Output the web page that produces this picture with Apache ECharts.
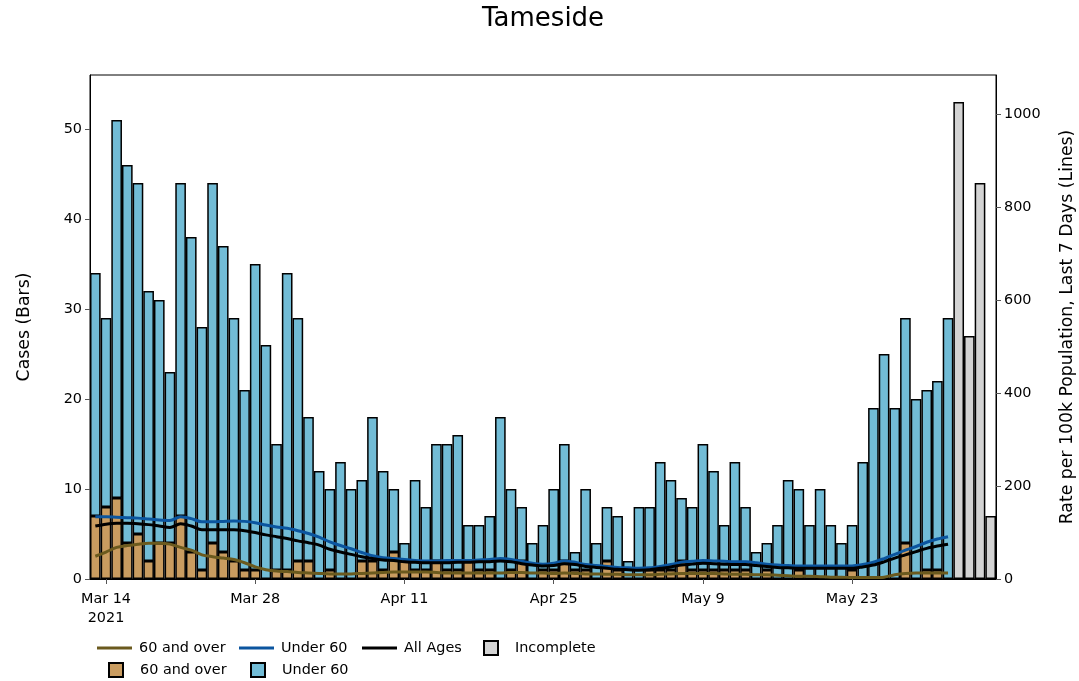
<!DOCTYPE html>
<html>
<head>
<meta charset="utf-8">
<script src="https://cdn.jsdelivr.net/npm/echarts@6/dist/echarts.min.js"></script>
<style>
html,body{margin:0;padding:0;background:#fff;}
#chart{width:1079px;height:681px;}
</style>
</head>
<body>
<div id="chart"></div>
<script>
// ---- Data ----
const categories = [
  'Mar 13','Mar 14','Mar 15','Mar 16','Mar 17','Mar 18','Mar 19','Mar 20','Mar 21','Mar 22',
  'Mar 23','Mar 24','Mar 25','Mar 26','Mar 27','Mar 28','Mar 29','Mar 30','Mar 31',
  'Apr 1','Apr 2','Apr 3','Apr 4','Apr 5','Apr 6','Apr 7','Apr 8','Apr 9','Apr 10',
  'Apr 11','Apr 12','Apr 13','Apr 14','Apr 15','Apr 16','Apr 17','Apr 18','Apr 19','Apr 20',
  'Apr 21','Apr 22','Apr 23','Apr 24','Apr 25','Apr 26','Apr 27','Apr 28','Apr 29','Apr 30',
  'May 1','May 2','May 3','May 4','May 5','May 6','May 7','May 8','May 9','May 10',
  'May 11','May 12','May 13','May 14','May 15','May 16','May 17','May 18','May 19','May 20',
  'May 21','May 22','May 23','May 24','May 25','May 26','May 27','May 28','May 29','May 30','May 31',
  'Jun 1','Jun 2','Jun 3','Jun 4','Jun 5'
];

// Daily cases, aged 60 and over (Mar 13 - Jun 1)
const over60Cases = [
  7,8,9,4,5,2,4,4,7,3,
  1,4,3,2,1,1,0,1,1,
  2,2,0,1,0,0,2,2,1,3,
  2,1,1,2,1,1,2,1,1,0,
  1,2,0,1,1,2,1,1,0,2,
  1,0,0,1,1,1,2,1,1,1,
  1,1,1,0,1,0,0,1,0,0,
  0,0,1,0,0,0,0,4,0,1,1,
  0
];

// Daily cases, under 60 (Mar 13 - Jun 1)
const under60Cases = [
  27,21,42,42,39,30,27,19,37,35,
  27,40,34,27,20,34,26,14,33,
  27,16,12,9,13,10,9,16,11,7,
  2,10,7,13,14,15,4,5,6,18,
  9,6,4,5,9,13,2,9,4,6,
  6,2,8,7,12,10,7,7,14,11,
  5,12,7,3,3,6,11,9,6,10,
  6,4,5,13,19,25,19,25,20,20,21,
  29
];

// Incomplete days (all ages)
const incompleteDates = ['Jun 2','Jun 3','Jun 4','Jun 5'];
const incompleteCases = [53,27,44,7];

// 7-day rate per 100k (Mar 13 - Jun 1)
const rateOver60 = [
  49,58,68,72,75,77,77,75,68,62,
  52,48,45,42,35,26,20,17,16,
  14,13,12,11,11,11,12,13,14,15,
  15,15,15,14,13,13,13,13,13,13,
  14,14,13,13,12,13,12,11,11,10,
  10,9,9,9,10,11,12,12,12,12,
  11,10,10,9,9,8,7,6,6,5,
  4,4,3,3,3,4,9,12,13,13,13,
  13
];
const rateUnder60 = [
  134,134,133,132,131,129,127,126,134,130,
  123,123,124,125,124,121,116,112,109,
  104,98,90,80,72,65,57,50,46,44,
  42,40,39,39,40,40,40,41,42,44,
  42,38,34,32,34,39,36,31,29,27,
  25,24,23,24,27,31,36,38,40,39,
  38,37,37,35,32,30,29,28,28,28,
  28,28,28,31,36,44,53,62,70,79,86,
  91
];
const rateAllAges = [
  114,118,120,120,119,117,114,111,119,114,
  106,106,106,106,104,100,95,91,87,
  82,78,73,64,58,53,48,44,41,40,
  37,36,35,35,35,36,36,37,37,39,
  37,33,30,28,29,33,31,27,25,23,
  21,20,19,20,23,26,30,32,34,33,
  32,31,31,29,27,25,24,23,23,23,
  23,23,23,26,30,37,45,52,59,66,71,
  75
];

// Tick labels shown on the date axis
const xTickLabels = {'Mar 14':'Mar 14\n2021','Mar 28':'Mar 28','Apr 11':'Apr 11','Apr 25':'Apr 25','May 9':'May 9','May 23':'May 23'};

// ---- Build ----
const pad = (arr) => categories.map((c, i) => i < arr.length ? arr[i] : null);
const incompleteData = categories.map(c => {
  const k = incompleteDates.indexOf(c);
  return k >= 0 ? incompleteCases[k] : null;
});

const FONT = 'DejaVu Sans';
const COL_OVER = '#C99C60';
const COL_UNDER = '#72BCD6';
const COL_INC = '#D3D3D3';
const COL_LINE_OVER = '#6B5A1E';
const COL_LINE_UNDER = '#0B559F';
const COL_LINE_ALL = '#000000';

const names = {
  l60:'60 and over', lU60:'Under 60', lAll:'All Ages', inc:'Incomplete', b60:'60 and over', bU60:'Under 60'
};

function lineLegend(name, left, top) {
  return {
    data: [{name: name, icon: 'rect'}],
    left: left, top: top, orient: 'horizontal', padding: 0,
    itemWidth: 35, itemHeight: 3, selectedMode: false,
    formatter: n => names[n],
    textStyle: {fontFamily: FONT, fontSize: 14.4, color: '#000', padding: [0,0,0,2]}
  };
}
function boxLegend(name, left, top) {
  return {
    data: [{name: name, icon: 'rect'}],
    left: left, top: top, orient: 'horizontal', padding: 0,
    itemWidth: 14, itemHeight: 14, selectedMode: false,
    formatter: n => names[n],
    textStyle: {fontFamily: FONT, fontSize: 14.4, color: '#000', padding: [0,0,0,12]}
  };
}

const chart = echarts.init(document.getElementById('chart'), null, {renderer: 'canvas'});
chart.setOption({
  animation: false,
  backgroundColor: '#fff',
  textStyle: {fontFamily: FONT},
  title: {
    text: 'Tameside', left: 477, top: 1,
    textStyle: {fontFamily: FONT, fontSize: 26, fontWeight: 'normal', color: '#000'}
  },
  legend: [
    lineLegend('l60', 97, 641),
    lineLegend('lU60', 239, 641),
    lineLegend('lAll', 362, 641),
    boxLegend('inc', 483, 640),
    boxLegend('b60', 108, 662),
    boxLegend('bU60', 250, 662)
  ],
  grid: {
    left: 90, right: 83, top: 75, bottom: 102,
    outerBoundsMode: 'none', containLabel: false,
    show: true, borderColor: '#000', borderWidth: 1, backgroundColor: 'transparent'
  },
  xAxis: {
    type: 'category',
    data: categories,
    boundaryGap: true,
    axisLine: {show: true, lineStyle: {color: '#000', width: 1}},
    axisTick: {
      show: true, alignWithLabel: true, length: 5,
      interval: (idx) => xTickLabels.hasOwnProperty(categories[idx]),
      lineStyle: {color: '#555'}
    },
    axisLabel: {
      interval: (idx) => xTickLabels.hasOwnProperty(categories[idx]),
      formatter: v => xTickLabels[v] || '',
      fontFamily: FONT, fontSize: 14.4, color: '#000', margin: 11, lineHeight: 19
    },
    splitLine: {show: false}
  },
  yAxis: [
    {
      type: 'value', min: 0, max: 56, interval: 10, position: 'left',
      name: 'Cases (Bars)', nameLocation: 'middle', nameRotate: 90, nameGap: 57,
      nameTextStyle: {fontFamily: FONT, fontSize: 17.3, color: '#000'},
      axisLine: {show: true, lineStyle: {color: '#000'}},
      axisTick: {show: true, length: 5, lineStyle: {color: '#555'}},
      axisLabel: {fontFamily: FONT, fontSize: 14.4, color: '#000', margin: 8, showMaxLabel: false,
                  formatter: v => String(v)},
      splitLine: {show: false}
    },
    {
      type: 'value', min: 0, max: 1084.6, interval: 200, position: 'right',
      name: 'Rate per 100k Population, Last 7 Days (Lines)', nameLocation: 'middle', nameRotate: 90, nameGap: 63,
      nameTextStyle: {fontFamily: FONT, fontSize: 17.3, color: '#000'},
      axisLine: {show: true, lineStyle: {color: '#000'}},
      axisTick: {show: true, length: 5, lineStyle: {color: '#555'}},
      axisLabel: {fontFamily: FONT, fontSize: 14.4, color: '#000', margin: 8, showMaxLabel: false,
                  formatter: v => String(v)},
      splitLine: {show: false}
    }
  ],
  series: [
    {
      name: 'b60', type: 'bar', stack: 'cases', barCategoryGap: '0%',
      data: pad(over60Cases),
      itemStyle: {color: COL_OVER, borderColor: '#000', borderWidth: 1.5}
    },
    {
      name: 'bU60', type: 'bar', stack: 'cases', barCategoryGap: '0%',
      data: pad(under60Cases),
      itemStyle: {color: COL_UNDER, borderColor: '#000', borderWidth: 1.5}
    },
    {
      name: 'inc', type: 'bar', stack: 'cases', barCategoryGap: '0%',
      data: incompleteData,
      itemStyle: {color: COL_INC, borderColor: '#000', borderWidth: 1.5}
    },
    {
      name: 'l60', type: 'line', yAxisIndex: 1, z: 5, smooth: 0.3, showSymbol: false, symbol: 'none',
      data: pad(rateOver60),
      itemStyle: {color: COL_LINE_OVER},
      lineStyle: {color: COL_LINE_OVER, width: 3}
    },
    {
      name: 'lU60', type: 'line', yAxisIndex: 1, z: 5, smooth: 0.3, showSymbol: false, symbol: 'none',
      data: pad(rateUnder60),
      itemStyle: {color: COL_LINE_UNDER},
      lineStyle: {color: COL_LINE_UNDER, width: 3}
    },
    {
      name: 'lAll', type: 'line', yAxisIndex: 1, z: 5, smooth: 0.3, showSymbol: false, symbol: 'none',
      data: pad(rateAllAges),
      itemStyle: {color: COL_LINE_ALL},
      lineStyle: {color: COL_LINE_ALL, width: 3}
    }
  ]
});
</script>
</body>
</html>
